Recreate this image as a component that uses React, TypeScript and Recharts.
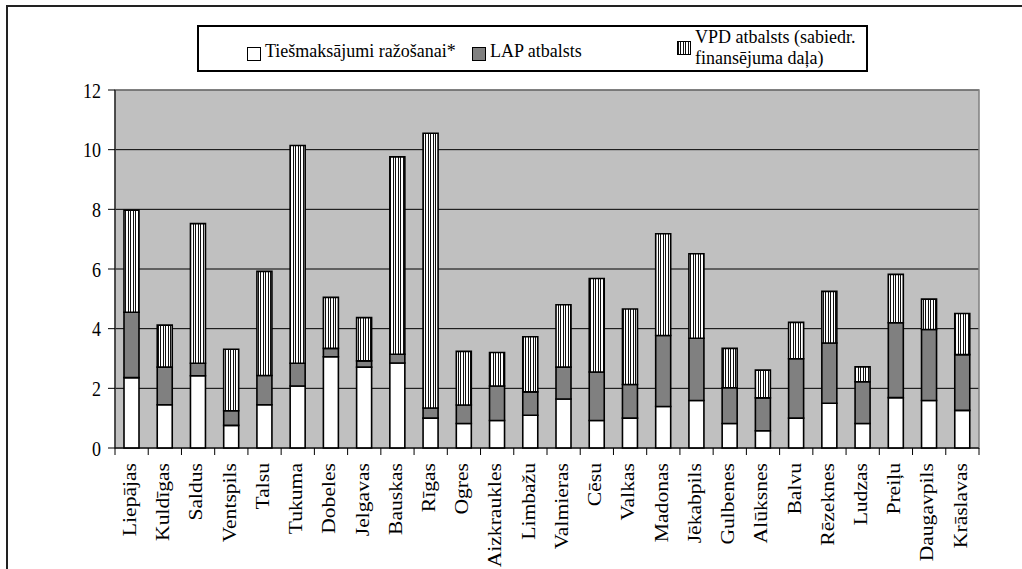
import React from "react";
import {
  BarChart,
  Bar,
  XAxis,
  YAxis,
  CartesianGrid,
  ReferenceArea,
} from "recharts";

const regions = [
  "Liepājas", "Kuldīgas", "Saldus", "Ventspils", "Talsu", "Tukuma", "Dobeles",
  "Jelgavas", "Bauskas", "Rīgas", "Ogres", "Aizkraukles", "Limbažu", "Valmieras",
  "Cēsu", "Valkas", "Madonas", "Jēkabpils", "Gulbenes", "Alūksnes", "Balvu",
  "Rēzeknes", "Ludzas", "Preiļu", "Daugavpils", "Krāslavas",
];

// Tiešmaksājumi ražošanai*
const direct = [
  2.36, 1.45, 2.42, 0.76, 1.45, 2.08, 3.06, 2.71, 2.85, 1.0, 0.82, 0.92, 1.1,
  1.64, 0.92, 1.0, 1.39, 1.59, 0.82, 0.58, 1.0, 1.5, 0.82, 1.69, 1.59, 1.26,
];
// LAP atbalsts
const lap = [
  2.19, 1.26, 0.42, 0.49, 0.98, 0.76, 0.28, 0.21, 0.29, 0.34, 0.62, 1.16, 0.78,
  1.07, 1.63, 1.13, 2.38, 2.09, 1.2, 1.1, 1.99, 2.02, 1.4, 2.51, 2.38, 1.87,
];
// VPD atbalsts (sabiedr. finansējuma daļa)
const vpd = [
  3.42, 1.41, 4.68, 2.06, 3.49, 7.3, 1.71, 1.45, 6.62, 9.21, 1.8, 1.12, 1.85,
  2.09, 3.13, 2.53, 3.41, 2.83, 1.32, 0.93, 1.22, 1.73, 0.5, 1.62, 1.02, 1.38,
];

const yTicks = [0, 2, 4, 6, 8, 10, 12];

const data = regions.map((r, i) => ({
  name: r,
  direct: direct[i],
  lap: lap[i],
  vpd: vpd[i],
}));

const W = 1022;
const H = 569;
const M = { top: 90, right: 43, left: 75, bottom: 0 };
const Y_AXIS_W = 40;
const X_AXIS_H = 121;
const STEP = (W - M.left - M.right - Y_AXIS_W) / regions.length;
const FONT = "Liberation Serif";

function XTick(props: any) {
  const { x, y, payload, index } = props;
  const left = x - STEP / 2;
  const last = index === regions.length - 1;
  return (
    <g>
      <line x1={left} y1={y} x2={left} y2={y + 7} stroke="#000" />
      {last && <line x1={x + STEP / 2} y1={y} x2={x + STEP / 2} y2={y + 7} stroke="#000" />}
      <text
        transform={`translate(${x - 2},${y + 15}) scale(1,1.2) rotate(-90)`}
        textAnchor="end"
        dominantBaseline="central"
        style={{ fontFamily: FONT, fontSize: 18 }}
        fill="#000"
      >
        {payload.value}
      </text>
    </g>
  );
}

function YTick(props: any) {
  const { x, y, payload } = props;
  return (
    <text
      transform={`translate(${x},${y}) scale(1,1.2)`}
      textAnchor="end"
      dominantBaseline="central"
      style={{ fontFamily: FONT, fontSize: 18 }}
      fill="#000"
    >
      {payload.value}
    </text>
  );
}

const swatch = { display: "inline-block", width: 12, height: 12, border: "1px solid #000", position: "relative" as const, top: 2 };
const item = { position: "absolute" as const, display: "flex", alignItems: "center", gap: 4, whiteSpace: "nowrap" as const, fontFamily: FONT };

export default function App() {
  return (
    <div style={{ position: "absolute", left: 0, top: 0, width: W, height: H, overflow: "hidden", background: "#fff", fontFamily: FONT }}>
      <svg width={0} height={0} style={{ position: "absolute" }}>
        <defs>
          <pattern id="vstripes" width={5} height={10} patternUnits="userSpaceOnUse">
            <rect width={5} height={10} fill="#fff" />
            <rect x={0} width={1} height={10} fill="#111" />
            <rect x={3} width={1} height={10} fill="#111" />
          </pattern>
        </defs>
      </svg>
      <div style={{ position: "absolute", left: 6, top: 5, width: 1100, height: 700, border: "2px solid #222" }} />
      <BarChart width={W} height={H} data={data} margin={M} barSize={15}>
        <CartesianGrid vertical={false} fill="#C0C0C0" stroke="#000" fillOpacity={1} />
        <ReferenceArea y1={0} y2={12} fill="none" stroke="#808080" strokeWidth={1.5} />
        <XAxis
          dataKey="name"
          interval={0}
          height={X_AXIS_H}
          tickLine={false}
          tickSize={0}
          tickMargin={0}
          axisLine={{ stroke: "#000" }}
          tick={<XTick />}
        />
        <YAxis
          domain={[0, 12]}
          ticks={yTicks}
          width={Y_AXIS_W}
          tickSize={7}
          tickMargin={7}
          tickLine={{ stroke: "#000" }}
          axisLine={{ stroke: "#000" }}
          tick={<YTick />}
          interval={0}
        />
        <Bar dataKey="direct" stackId="a" fill="#fff" stroke="#000" strokeWidth={1.6} isAnimationActive={false} />
        <Bar dataKey="lap" stackId="a" fill="#808080" stroke="#000" strokeWidth={1.6} isAnimationActive={false} />
        <Bar dataKey="vpd" stackId="a" fill="url(#vstripes)" stroke="#000" strokeWidth={1.6} isAnimationActive={false} />
      </BarChart>
      <div style={{ position: "absolute", left: 197, top: 25, width: 667, height: 43, border: "2px solid #000", background: "#fff", fontSize: 18, color: "#000" }}>
        <div style={{ ...item, left: 48, top: 14 }}>
          <span style={{ ...swatch, background: "#fff" }} />
          <span>Tiešmaksājumi ražošanai*</span>
        </div>
        <div style={{ ...item, left: 273, top: 14 }}>
          <span style={{ ...swatch, background: "#808080" }} />
          <span>LAP atbalsts</span>
        </div>
        <div style={{ ...item, left: 478, top: 0 }}>
          <span style={{ ...swatch, top: 0, background: "repeating-linear-gradient(90deg, #111 0 1px, #fff 1px 2.5px)" }} />
          <span style={{ lineHeight: "21px" }}>
            VPD atbalsts (sabiedr.
            <br />
            finansējuma daļa)
          </span>
        </div>
      </div>
    </div>
  );
}
